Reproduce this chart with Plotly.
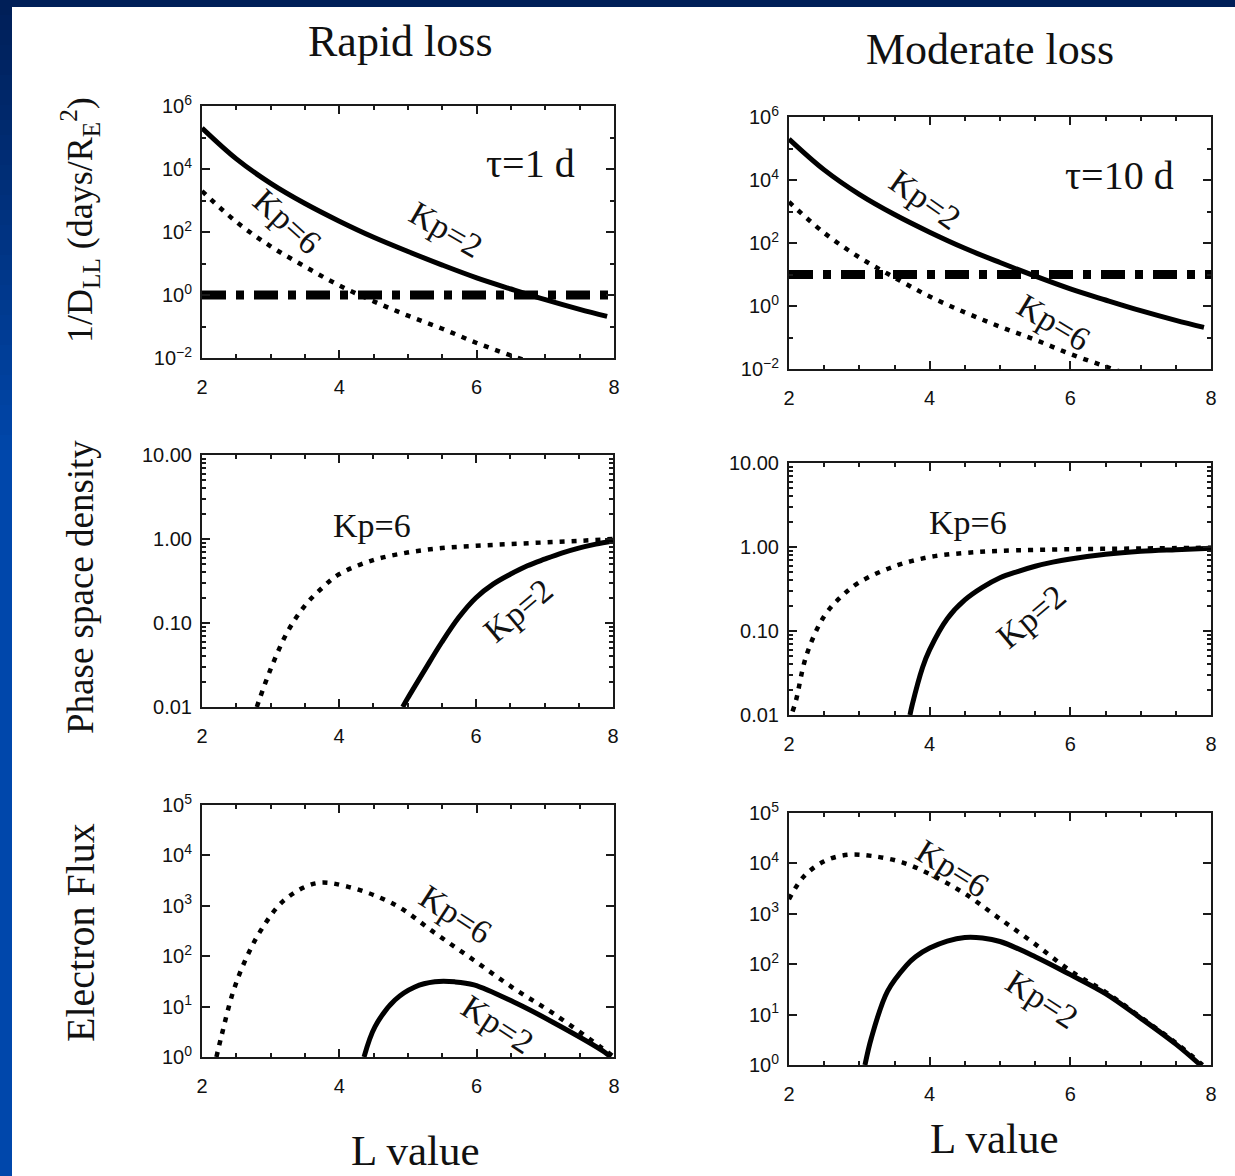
import plotly.graph_objects as go

W, H = 1235, 1176

# ---------------- data ----------------
L_dll_kp2 = [2, 2.5, 3, 3.5, 4, 4.5, 5, 5.5, 6, 6.5, 7, 7.5, 7.9]
dll_kp2 = [2.0e5, 2.1e4, 3.5e3, 8.0e2, 2.2e2, 68, 24, 8.9, 3.5, 1.55, 0.71, 0.35, 0.21]
L_dll_kp6 = [2, 2.5, 3, 3.5, 4, 4.5, 5, 5.5, 6, 6.5, 7]
dll_kp6 = [2.0e3, 2.1e2, 35, 8.0, 2.0, 0.63, 0.22, 0.085, 0.030, 0.012, 0.005]
tau_days = [1, 10]

L_psd_rapid_kp6 = [2.8, 3.0, 3.25, 3.5, 3.75, 4.0, 4.5, 5.0, 5.5, 6.0, 6.5, 7.0, 7.5, 8.0]
psd_rapid_kp6 = [0.010, 0.028, 0.079, 0.16, 0.26, 0.38, 0.56, 0.69, 0.78, 0.83, 0.87, 0.91, 0.95, 1.0]
L_psd_rapid_kp2 = [4.93, 5.0, 5.25, 5.5, 5.75, 6.0, 6.25, 6.5, 6.75, 7.0, 7.25, 7.5, 7.75, 8.0]
psd_rapid_kp2 = [0.010, 0.0126, 0.0275, 0.059, 0.117, 0.20, 0.29, 0.38, 0.48, 0.575, 0.68, 0.78, 0.87, 0.95]

L_psd_mod_kp6 = [2.05, 2.1, 2.25, 2.5, 2.75, 3.0, 3.5, 4.0, 4.5, 5.0, 6.0, 7.0, 8.0]
psd_mod_kp6 = [0.011, 0.015, 0.052, 0.15, 0.26, 0.38, 0.59, 0.76, 0.85, 0.90, 0.94, 0.96, 0.98]
L_psd_mod_kp2 = [3.72, 3.75, 3.9, 4.0, 4.25, 4.5, 4.75, 5.0, 5.25, 5.5, 5.75, 6.0, 6.5, 7.0, 7.5, 8.0]
psd_mod_kp2 = [0.010, 0.013, 0.037, 0.060, 0.14, 0.234, 0.33, 0.43, 0.51, 0.59, 0.66, 0.72, 0.82, 0.89, 0.93, 0.965]

L_flux_rapid_kp6 = [2.21, 2.28, 2.45, 2.63, 2.86, 3.2, 3.66, 4.12, 4.81, 5.39, 5.96, 6.54, 7.11, 7.8, 8.0]
flux_rapid_kp6 = [1.0, 2.5, 19, 83, 330, 1300, 2800, 2400, 1050, 290, 83, 23, 7.4, 1.6, 1.0]
L_flux_rapid_kp2 = [4.36, 4.52, 4.81, 5.1, 5.39, 5.68, 5.96, 6.54, 7.11, 7.86, 7.95]
flux_rapid_kp2 = [1.0, 4.0, 13.5, 24.5, 31, 31, 27, 12.3, 4.9, 1.26, 1.0]

L_flux_mod_kp6 = [2.0, 2.21, 2.5, 2.83, 3.17, 3.61, 4.07, 4.51, 4.95, 5.46, 6.02, 6.5, 7.0, 7.5, 7.88]
flux_mod_kp6 = [1950, 5500, 11000, 14800, 14100, 10500, 5500, 2450, 890, 275, 71, 28, 8.9, 2.75, 1.0]
L_flux_mod_kp2 = [3.08, 3.17, 3.4, 3.67, 3.8, 4.0, 4.25, 4.5, 4.75, 5.0, 5.5, 6.0, 6.5, 7.0, 7.5, 7.85]
flux_mod_kp2 = [1.0, 3.4, 29, 95, 141, 209, 288, 339, 331, 282, 141, 62, 26, 8.5, 2.6, 1.0]

x_ticks = [2, 4, 6, 8]
x_minor = [2.5, 3, 3.5, 4.5, 5, 5.5, 6.5, 7, 7.5]
dll_ticks = [1e-2, 1, 1e2, 1e4, 1e6]
dll_ticktext = ["10<sup>\u22122</sup>", "10<sup>0</sup>", "10<sup>2</sup>", "10<sup>4</sup>", "10<sup>6</sup>"]
dll_minor = [1e-1, 1e1, 1e3, 1e5]
psd_ticks = [0.01, 0.1, 1, 10]
psd_ticktext = ["0.01", "0.10", "1.00", "10.00"]
psd_minor = [m * d for d in (0.01, 0.1, 1) for m in range(2, 10)]
flux_ticks = [1, 10, 100, 1e3, 1e4, 1e5]
flux_ticktext = ["10<sup>0</sup>", "10<sup>1</sup>", "10<sup>2</sup>", "10<sup>3</sup>", "10<sup>4</sup>", "10<sup>5</sup>"]

# ---------------- helpers ----------------
def px(x):
    return x / W

def py(y):
    return 1 - y / H

SERIF = "Liberation Serif, Times New Roman, serif"
SANS = "Liberation Sans, Arial, sans-serif"

fig = go.Figure()

solid = dict(color="black", width=5, shape="spline", smoothing=1.0)
dotted = dict(color="black", width=4.5, dash="5px,7px", shape="spline", smoothing=1.0)
dashdot = dict(color="black", width=9, dash="24px,10px,8px,10px")

panels = [
    ("x", "y", (202, 614, 106, 358)),
    ("x2", "y2", (789, 1211, 117, 369)),
    ("x3", "y3", (202, 613, 455, 707)),
    ("x4", "y4", (789, 1211, 463, 715)),
    ("x5", "y5", (202, 614, 805, 1057)),
    ("x6", "y6", (789, 1211, 813, 1065)),
]

for i, tau in enumerate(tau_days):
    xa, ya, _ = panels[i]
    fig.add_trace(go.Scatter(x=[2, 8], y=[tau, tau], mode="lines", line=dashdot, xaxis=xa, yaxis=ya))
    fig.add_trace(go.Scatter(x=L_dll_kp6, y=dll_kp6, mode="lines", line=dotted, xaxis=xa, yaxis=ya))
    fig.add_trace(go.Scatter(x=L_dll_kp2, y=dll_kp2, mode="lines", line=solid, xaxis=xa, yaxis=ya))

fig.add_trace(go.Scatter(x=L_psd_rapid_kp6, y=psd_rapid_kp6, mode="lines", line=dotted, xaxis="x3", yaxis="y3"))
fig.add_trace(go.Scatter(x=L_psd_rapid_kp2, y=psd_rapid_kp2, mode="lines", line=solid, xaxis="x3", yaxis="y3"))
fig.add_trace(go.Scatter(x=L_psd_mod_kp6, y=psd_mod_kp6, mode="lines", line=dotted, xaxis="x4", yaxis="y4"))
fig.add_trace(go.Scatter(x=L_psd_mod_kp2, y=psd_mod_kp2, mode="lines", line=solid, xaxis="x4", yaxis="y4"))

fig.add_trace(go.Scatter(x=L_flux_rapid_kp6, y=flux_rapid_kp6, mode="lines", line=dotted, xaxis="x5", yaxis="y5"))
fig.add_trace(go.Scatter(x=L_flux_rapid_kp2, y=flux_rapid_kp2, mode="lines", line=solid, xaxis="x5", yaxis="y5"))
fig.add_trace(go.Scatter(x=L_flux_mod_kp6, y=flux_mod_kp6, mode="lines", line=dotted, xaxis="x6", yaxis="y6"))
fig.add_trace(go.Scatter(x=L_flux_mod_kp2, y=flux_mod_kp2, mode="lines", line=solid, xaxis="x6", yaxis="y6"))

axis_common = dict(
    showline=True, linewidth=2, linecolor="#1a1a1a", mirror="allticks",
    ticks="inside", ticklen=8, tickwidth=2, tickcolor="#1a1a1a",
    showgrid=False, zeroline=False, automargin=False,
    tickfont=dict(family=SANS, size=20, color="#111"),
)

layout = {}
yspecs = [
    (dll_ticks, dll_ticktext, dll_minor, [-2, 6]),
    (dll_ticks, dll_ticktext, dll_minor, [-2, 6]),
    (psd_ticks, psd_ticktext, psd_minor, [-2, 1]),
    (psd_ticks, psd_ticktext, psd_minor, [-2, 1]),
    (flux_ticks, flux_ticktext, [], [0, 5]),
    (flux_ticks, flux_ticktext, [], [0, 5]),
]
for i, (xa, ya, (x0, x1, y0, y1)) in enumerate(panels):
    xkey = "xaxis" if xa == "x" else "xaxis" + xa[1:]
    ykey = "yaxis" if ya == "y" else "yaxis" + ya[1:]
    tv, tt, mv, rng = yspecs[i]
    layout[xkey] = dict(
        axis_common, domain=[px(x0), px(x1)], anchor=ya, range=[2, 8],
        tickvals=x_ticks, ticktext=[str(v) for v in x_ticks], ticklabelstandoff=10,
        minor=dict(tickvals=x_minor, ticks="inside", ticklen=4, tickwidth=1.5, tickcolor="#1a1a1a"),
    )
    layout[ykey] = dict(
        axis_common, domain=[py(y1), py(y0)], anchor=xa, type="log", range=rng,
        tickvals=tv, ticktext=tt, ticklabelstandoff=4,
        minor=dict(tickvals=mv, ticks="inside", ticklen=4, tickwidth=1.5, tickcolor="#1a1a1a"),
    )

shapes = [dict(type="rect", xref="paper", yref="paper", x0=0, x1=1, y0=py(7), y1=1,
               fillcolor="#001f58", line=dict(width=0), layer="below")]
n = 30
top_c = (0x00, 0x1f, 0x58)
bot_c = (0x00, 0x47, 0xab)
for k in range(n):
    ya0 = k * 15
    ya1 = ya0 + 15
    t = min(1.0, ya0 / 450)
    c = tuple(int(round(a + (b - a) * t)) for a, b in zip(top_c, bot_c))
    shapes.append(dict(type="rect", xref="paper", yref="paper", x0=0, x1=px(12), y0=py(ya1), y1=py(ya0),
                       fillcolor="rgb(%d,%d,%d)" % c, line=dict(width=0), layer="below"))
shapes.append(dict(type="rect", xref="paper", yref="paper", x0=0, x1=px(12), y0=0, y1=py(450),
                   fillcolor="rgb(0,71,171)", line=dict(width=0), layer="below"))

def ann(text, x, y, size, angle=0, family=SERIF):
    return dict(text=text, x=px(x), y=py(y), xref="paper", yref="paper", showarrow=False,
                xanchor="center", yanchor="middle", textangle=angle,
                font=dict(family=family, size=size, color="#111"))

annotations = [
    ann("Rapid loss", 400, 42, 44),
    ann("Moderate loss", 990, 50, 44),
    ann("1/D<sub>LL</sub> (days/R<sub>E</sub><sup>2</sup>)", 80, 220, 36, -90),
    ann("Phase space density", 80, 587, 37, -90),
    ann("Electron Flux", 80, 933, 40, -90),
    ann("L value", 415, 1150, 43),
    ann("L value", 994, 1138, 43),
    ann("\u03c4=1 d", 530, 163, 40),
    ann("\u03c4=10 d", 1119, 176, 40),
    ann("Kp=6", 287, 222, 34, 42),
    ann("Kp=2", 446, 230, 34, 30),
    ann("Kp=2", 925, 200, 34, 35),
    ann("Kp=6", 1054, 322, 34, 31),
    ann("Kp=6", 372, 525, 34, 0),
    ann("Kp=2", 518, 610, 34, -40),
    ann("Kp=6", 968, 522, 34, 0),
    ann("Kp=2", 1031, 616, 34, -40),
    ann("Kp=6", 456, 914, 34, 33),
    ann("Kp=2", 498, 1024, 34, 33),
    ann("Kp=6", 953, 868, 34, 32),
    ann("Kp=2", 1042, 1000, 34, 33),
]

fig.update_layout(
    width=W, height=H, margin=dict(l=0, r=0, t=0, b=0, pad=0, autoexpand=False),
    paper_bgcolor="white", plot_bgcolor="white", showlegend=False,
    shapes=shapes, annotations=annotations, **layout,
)

fig.write_html(
    "out.html",
    config={"displayModeBar": False, "responsive": False},
    post_script=(
        "document.documentElement.style.margin='0px';"
        "document.body.style.margin='0px';document.body.style.padding='0px';"
        "document.body.style.overflow='hidden';"
        "var d=document.getElementById('{plot_id}');"
        "d.style.position='absolute';d.style.left='0px';d.style.top='0px';"
    ),
)
